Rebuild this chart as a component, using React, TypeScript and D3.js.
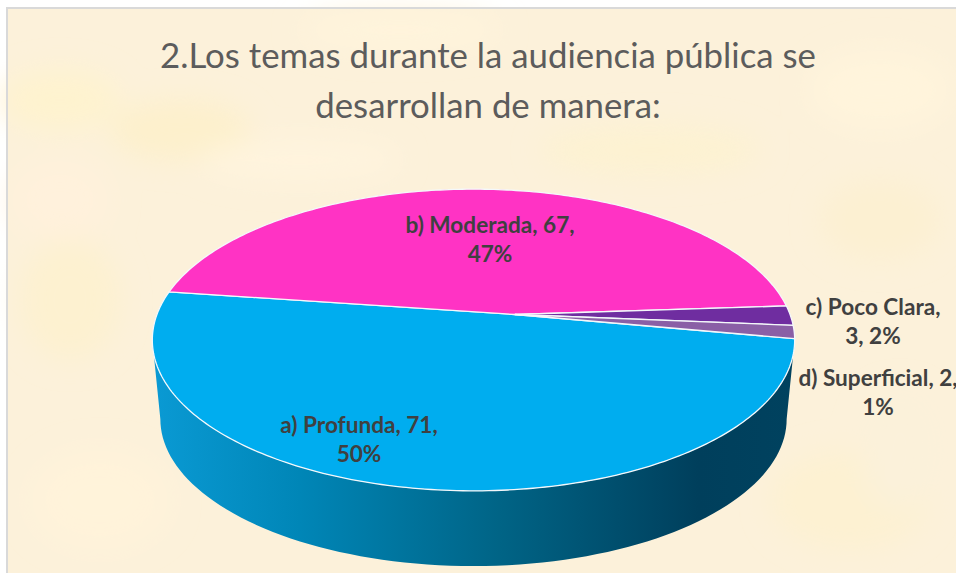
import React from "react";
import * as d3 from "d3";

const categories = ["a) Profunda", "b) Moderada", "c) Poco Clara", "d) Superficial"];
const values = [71, 67, 3, 2];
const percents = ["50%", "47%", "2%", "1%"];
const sliceColors = ["#00adef", "#ff33c4", "#6f2da0", "#8a5fa6"];
const titleLines = ["2.Los temas durante la audiencia pública se", "desarrollan de manera:"];
const labelLines = [
  [`${categories[0]}, ${values[0]},`, percents[0]],
  [`${categories[1]}, ${values[1]},`, percents[1]],
  [`${categories[2]},`, `${values[2]}, ${percents[2]}`],
  [`${categories[3]}, ${values[3]},`, percents[3]],
];
const labelPos = [[359, 433], [490, 233], [873, 315], [878, 386]];
const patches = [
  [60, 100, 60, 30, "#fef3cf"], [180, 130, 70, 30, "#fdf0cc"], [880, 90, 70, 40, "#fff4dc"],
  [70, 300, 50, 60, "#fdf1d0"], [100, 500, 70, 50, "#fff3da"], [850, 500, 80, 50, "#fdf1d2"],
  [60, 200, 50, 40, "#fff1dc"], [880, 220, 60, 40, "#fcf0d2"], [400, 30, 100, 20, "#fff4dc"],
  [650, 150, 110, 25, "#fdf2d2"], [300, 160, 100, 20, "#fff4de"], [900, 450, 40, 60, "#fbf1da"],
];

const W = 956, H = 573;
const cx = 473.5, cyCentre = 313;
const A = 146, B = 316, k = 0.179;
const lowerScale = 0.975, lowerDy = 79;
const startDeg = 9.8;
const vertex: [number, number] = [515, 314.5];

function project(theta: number): [number, number] {
  const u = Math.cos(theta), v = Math.sin(theta), w = 1 - k * v;
  return [cx + (B * u) / w, cyCentre + (A * v) / w];
}
function lower(theta: number): [number, number] {
  const [x, y] = project(theta);
  return [cx + (x - cx) * lowerScale, 340 + lowerDy + (y - 340) * lowerScale];
}
const line = d3.line();

export default function App() {
  const pie = d3.pie<number>().sort(null).startAngle((startDeg * Math.PI) / 180).endAngle((startDeg * Math.PI) / 180 + 2 * Math.PI);
  const arcs = pie(values);
  const slices = arcs.map((a) => {
    const n = Math.max(4, Math.ceil((a.endAngle - a.startAngle) * 60));
    const pts = d3.range(n + 1).map((i) => project(a.startAngle + ((a.endAngle - a.startAngle) * i) / n));
    return line([vertex, ...pts]) + "Z";
  });
  const t0 = Math.asin(k);
  const frontAngles = d3.range(0, 91).map((i) => t0 + ((Math.PI - 2 * t0) * i) / 90);
  const sidePts: [number, number][] = [
    ...frontAngles.map(lower),
    ...frontAngles.slice().reverse().map(project),
  ];
  return (
    <svg width={W} height={H} viewBox={`0 0 ${W} ${H}`} style={{ position: "absolute", left: 0, top: 0 }}>
      <defs>
        <linearGradient id="side" gradientUnits="userSpaceOnUse" x1={152} x2={795} y1={0} y2={0}>
          <stop offset="0" stopColor="#0a9ad4" />
          <stop offset="0.23" stopColor="#0086b7" />
          <stop offset="0.54" stopColor="#006486" />
          <stop offset="0.85" stopColor="#003f5c" />
          <stop offset="1" stopColor="#00425f" />
        </linearGradient>
        <filter id="soft" x="-50%" y="-50%" width="200%" height="200%">
          <feGaussianBlur stdDeviation="14" />
        </filter>
      </defs>
      <rect width={W} height={H} fill="#ffffff" />
      <rect x={7} y={8} width={W - 7} height={H - 8} fill="#fcf1da" />
      <g filter="url(#soft)">
        {patches.map((p, i) => (
          <ellipse key={i} cx={p[0] as number} cy={p[1] as number} rx={p[2] as number} ry={p[3] as number} fill={p[4] as string} />
        ))}
      </g>
      <path d={`M7,${H}V8H${W}`} fill="none" stroke="#d9d9d9" strokeWidth={2} />
      {titleLines.map((t, i) => (
        <text key={i} x={488} y={68 + i * 49.5} textAnchor="middle" fontFamily="Lato" fontWeight={400} fontSize={34.8} fill="#5c5c5c">{t}</text>
      ))}
      <path d={line(sidePts)! + "Z"} fill="url(#side)" />
      {slices.map((d, i) => (
        <path key={i} d={d} fill={sliceColors[i]} stroke="#f4f8fb" strokeWidth={1.3} strokeLinejoin="round" />
      ))}
      {labelLines.map((ls, i) => (
        <text key={i} textAnchor="middle" fontFamily="Lato" fontWeight={700} fontSize={22.6} fill="#404040">
          {ls.map((l, j) => (
            <tspan key={j} x={labelPos[i][0]} y={labelPos[i][1] + j * 28.5}>{l}</tspan>
          ))}
        </text>
      ))}
    </svg>
  );
}
